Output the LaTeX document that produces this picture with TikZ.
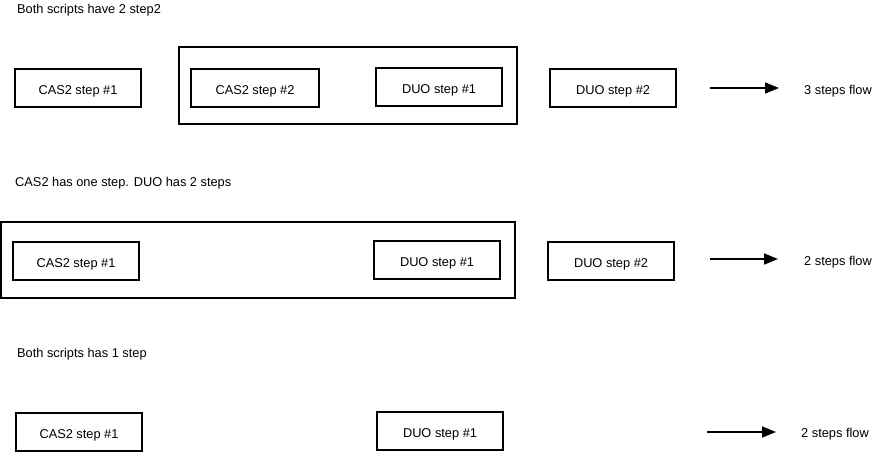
\documentclass[tikz,border=0pt]{standalone}
\usepackage{fontspec}
\setmainfont{Liberation Sans}
\usetikzlibrary{arrows.meta}

\tikzset{
	stepbox/.style={draw,line width=1.6pt,minimum width=126pt,minimum height=38pt,inner sep=0pt,text height=12pt,text depth=0pt},
	groupbox/.style={draw,line width=1.6pt,inner sep=0pt},
	caption/.style={anchor=base west,inner sep=0pt},
	flow/.style={draw,line width=1.6pt,-{Triangle[length=14pt,width=11pt]}}
}

\begin{document}
\begin{tikzpicture}[x=1pt,y=-1pt,font=\fontsize{12.8}{15}\selectfont]
			\useasboundingbox (0,0) rectangle (874,453);
		
			\node[caption] (t1) at (17,13) {Both scripts have 2 step2};
			\node[groupbox,minimum width=338pt,minimum height=77pt] (g1) at (348,85.5) {};
			\node[stepbox] (c11) at (78,88) {CAS2 step \#1};
			\node[stepbox,minimum width=128pt] (c12) at (255,88) {CAS2 step \#2};
			\node[stepbox] (d11) at (439,87) {DUO step \#1};
			\node[stepbox] (d12) at (613,88) {DUO step \#2};
			\coordinate (a1s) at (710,88);
			\coordinate (a1e) at (779,88);
			\node[caption] (f1) at (804,94) {3 steps flow};
			\path[flow] (a1s) -- (a1e);
		
			\node[caption] (t2) at (15,186) {CAS2 has one step. DUO has 2 steps};
			\node[groupbox,minimum width=514pt,minimum height=76pt] (g2) at (258,260) {};
			\node[stepbox] (c21) at (76,261) {CAS2 step \#1};
			\node[stepbox] (d21) at (437,260) {DUO step \#1};
			\node[stepbox] (d22) at (611,261) {DUO step \#2};
			\coordinate (a2s) at (710,259);
			\coordinate (a2e) at (778,259);
			\node[caption] (f2) at (804,265) {2 steps flow};
			\path[flow] (a2s) -- (a2e);
		
			\node[caption] (t3) at (17,357) {Both scripts has 1 step};
			\node[stepbox] (c31) at (79,432) {CAS2 step \#1};
			\node[stepbox] (d31) at (440,431) {DUO step \#1};
			\coordinate (a3s) at (707,432);
			\coordinate (a3e) at (776,432);
			\node[caption] (f3) at (801,437) {2 steps flow};
			\path[flow] (a3s) -- (a3e);
		\end{tikzpicture}
\end{document}
